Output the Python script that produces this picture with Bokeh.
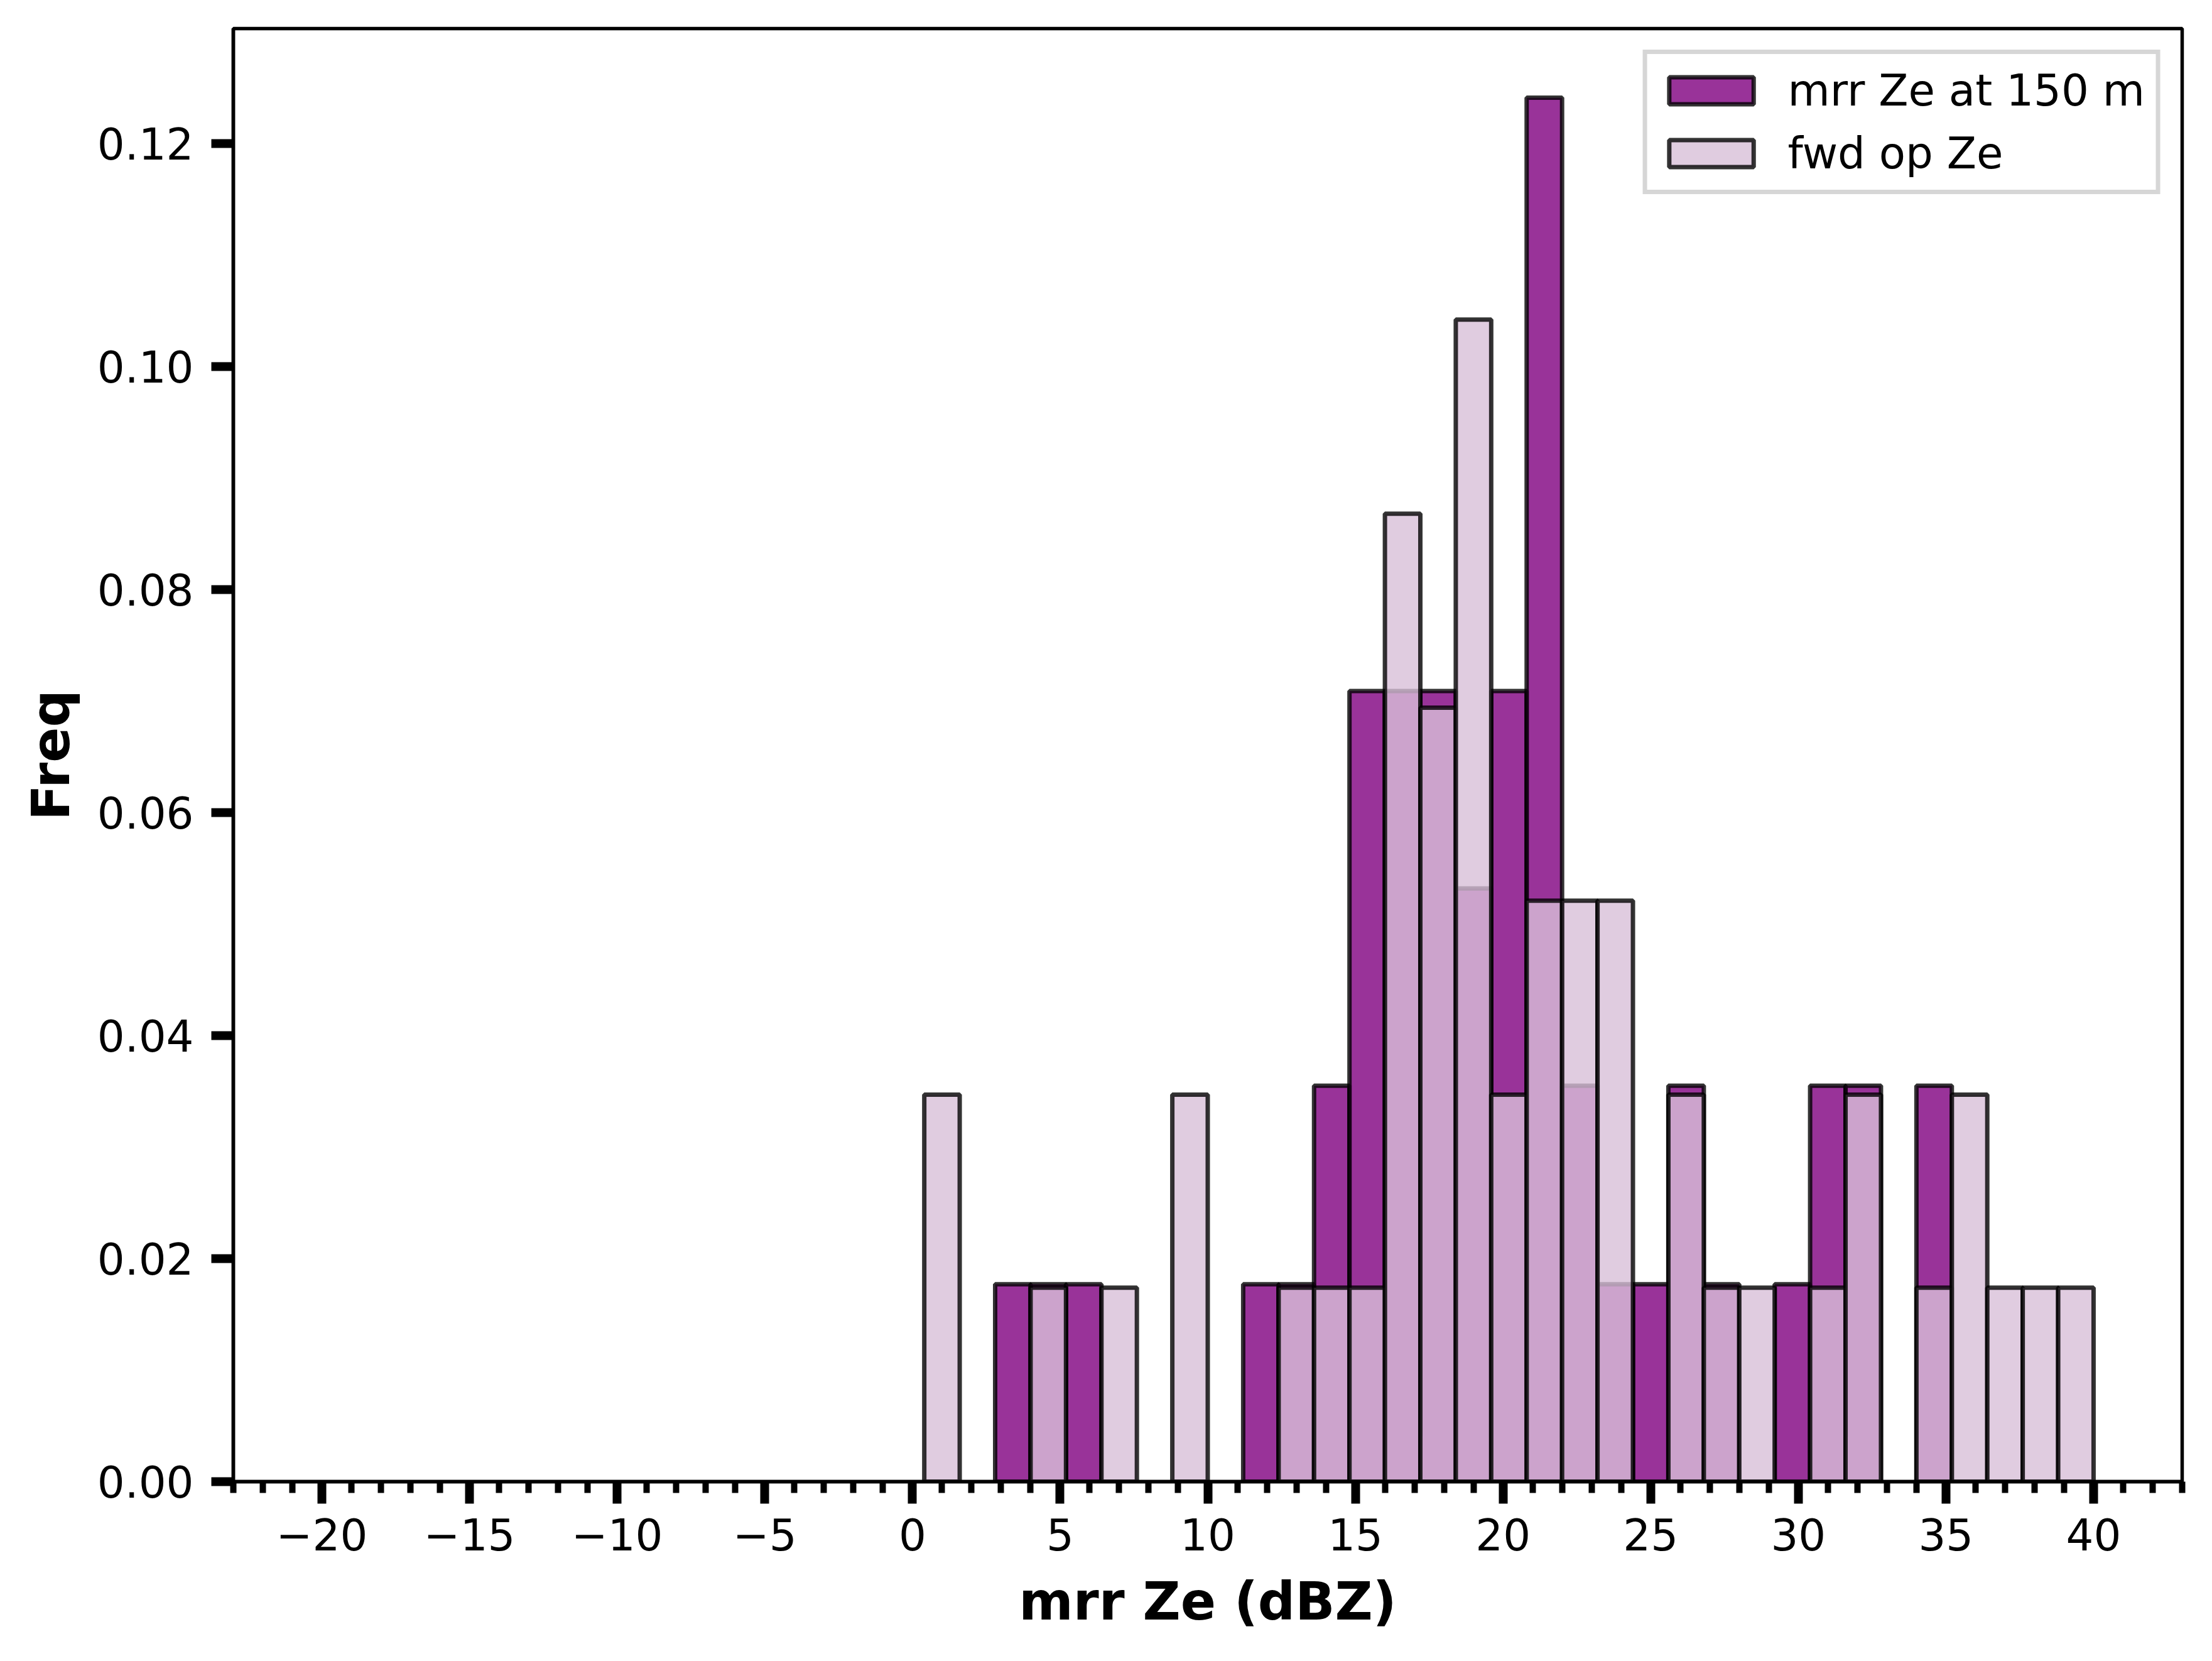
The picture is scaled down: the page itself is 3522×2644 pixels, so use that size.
from bokeh.plotting import figure
from bokeh.models import FixedTicker, Range1d, ColumnDataSource
from bokeh.embed import file_html
from bokeh.resources import INLINE

# Histogram bins (width 1.2 dBZ) covering the occupied range
bin_left = [0.4, 1.6, 2.8, 4.0, 5.2, 6.4, 7.6, 8.8, 10.0, 11.2, 12.4, 13.6, 14.8,
            16.0, 17.2, 18.4, 19.6, 20.8, 22.0, 23.2, 24.4, 25.6, 26.8, 28.0,
            29.2, 30.4, 31.6, 32.8, 34.0, 35.2, 36.4, 37.6, 38.8]
bin_right = [1.6, 2.8, 4.0, 5.2, 6.4, 7.6, 8.8, 10.0, 11.2, 12.4, 13.6, 14.8, 16.0,
             17.2, 18.4, 19.6, 20.8, 22.0, 23.2, 24.4, 25.6, 26.8, 28.0, 29.2,
             30.4, 31.6, 32.8, 34.0, 35.2, 36.4, 37.6, 38.8, 40.0]

# Density values
mrr_freq = [0.0, 0.0, 0.0177, 0.0177, 0.0177, 0.0, 0.0, 0.0, 0.0, 0.0177, 0.0177,
            0.0355, 0.0709, 0.0709, 0.0709, 0.0532, 0.0709, 0.1241, 0.0355, 0.0177,
            0.0177, 0.0355, 0.0177, 0.0, 0.0177, 0.0355, 0.0355, 0.0, 0.0355,
            0.0, 0.0, 0.0, 0.0]
fwd_freq = [0.0347, 0.0, 0.0, 0.0174, 0.0, 0.0174, 0.0, 0.0347, 0.0, 0.0, 0.0174,
            0.0174, 0.0174, 0.0868, 0.0694, 0.1042, 0.0347, 0.0521, 0.0521, 0.0521,
            0.0, 0.0347, 0.0174, 0.0174, 0.0, 0.0174, 0.0347, 0.0, 0.0174,
            0.0347, 0.0174, 0.0174, 0.0174]

x_major = [-20, -15, -10, -5, 0, 5, 10, 15, 20, 25, 30, 35, 40]
x_labels = ["\u221220", "\u221215", "\u221210", "\u22125", "0", "5", "10", "15",
            "20", "25", "30", "35", "40"]
y_major = [0.0, 0.02, 0.04, 0.06, 0.08, 0.10, 0.12]
y_labels = ["0.00", "0.02", "0.04", "0.06", "0.08", "0.10", "0.12"]

FONT = "DejaVu Sans"

p = figure(width=3506, height=2628, output_backend="svg", toolbar_location=None,
           x_range=Range1d(-23, 43), y_range=Range1d(0, 0.1303),
           min_border_left=371, min_border_right=32, min_border_top=45,
           min_border_bottom=270)
p.background_fill_color = "white"
p.border_fill_color = "white"
p.grid.visible = False
p.outline_line_color = "black"
p.outline_line_width = 5.5

def keep(vals, lefts, rights):
    l, r, t = [], [], []
    for a, b, v in zip(lefts, rights, vals):
        if v > 0:
            l.append(a); r.append(b); t.append(v)
    return ColumnDataSource(dict(left=l, right=r, top=t, bottom=[0.0] * len(t)))

src_mrr = keep(mrr_freq, bin_left, bin_right)
src_fwd = keep(fwd_freq, bin_left, bin_right)

p.quad(left="left", right="right", top="top", bottom="bottom", source=src_mrr,
       fill_color="#800080", fill_alpha=0.8, line_color="black", line_alpha=0.8,
       line_width=7, legend_label="mrr Ze at 150 m")
p.quad(left="left", right="right", top="top", bottom="bottom", source=src_fwd,
       fill_color="#D8BFD8", fill_alpha=0.8, line_color="black", line_alpha=0.8,
       line_width=7, legend_label="fwd op Ze")

# X axis
xa = p.xaxis[0]
xa.ticker = FixedTicker(ticks=x_major, minor_ticks=list(range(-23, 44)))
xa.major_label_overrides = {k: v for k, v in zip(x_major, x_labels)}
xa.axis_label = "mrr Ze (dBZ)"
# Y axis
ya = p.yaxis[0]
ya.ticker = FixedTicker(ticks=y_major, minor_ticks=[])
ya.major_label_overrides = {k: v for k, v in zip(y_major, y_labels)}
ya.axis_label = "Freq"

for ax in (xa, ya):
    ax.axis_line_color = "black"
    ax.axis_line_width = 5.5
    ax.major_tick_in = 0
    ax.major_tick_out = 35
    ax.major_tick_line_width = 14
    ax.major_tick_line_color = "black"
    ax.minor_tick_in = 0
    ax.minor_tick_out = 18
    ax.minor_tick_line_width = 10
    ax.minor_tick_line_color = "black"
    ax.major_label_text_font = FONT
    ax.major_label_text_font_size = "69px"
    ax.major_label_text_color = "black"
    ax.axis_label_text_font = FONT
    ax.axis_label_text_font_size = "83px"
    ax.axis_label_text_font_style = "bold"
    ax.axis_label_text_color = "black"

xa.major_label_standoff = 23
xa.axis_label_standoff = 30
ya.major_label_standoff = 28
ya.axis_label_standoff = 22

lg = p.legend[0]
lg.location = "top_right"
lg.margin = 34
lg.padding = 18
lg.spacing = 20
lg.glyph_width = 168
lg.glyph_height = 54
lg.label_standoff = 38
lg.label_text_font = FONT
lg.label_text_font_size = "69px"
lg.label_text_color = "black"
lg.border_line_color = "#cccccc"
lg.border_line_alpha = 0.8
lg.border_line_width = 7
lg.background_fill_color = "white"
lg.background_fill_alpha = 0.8

open("out.html", "w").write(file_html(p, INLINE))
